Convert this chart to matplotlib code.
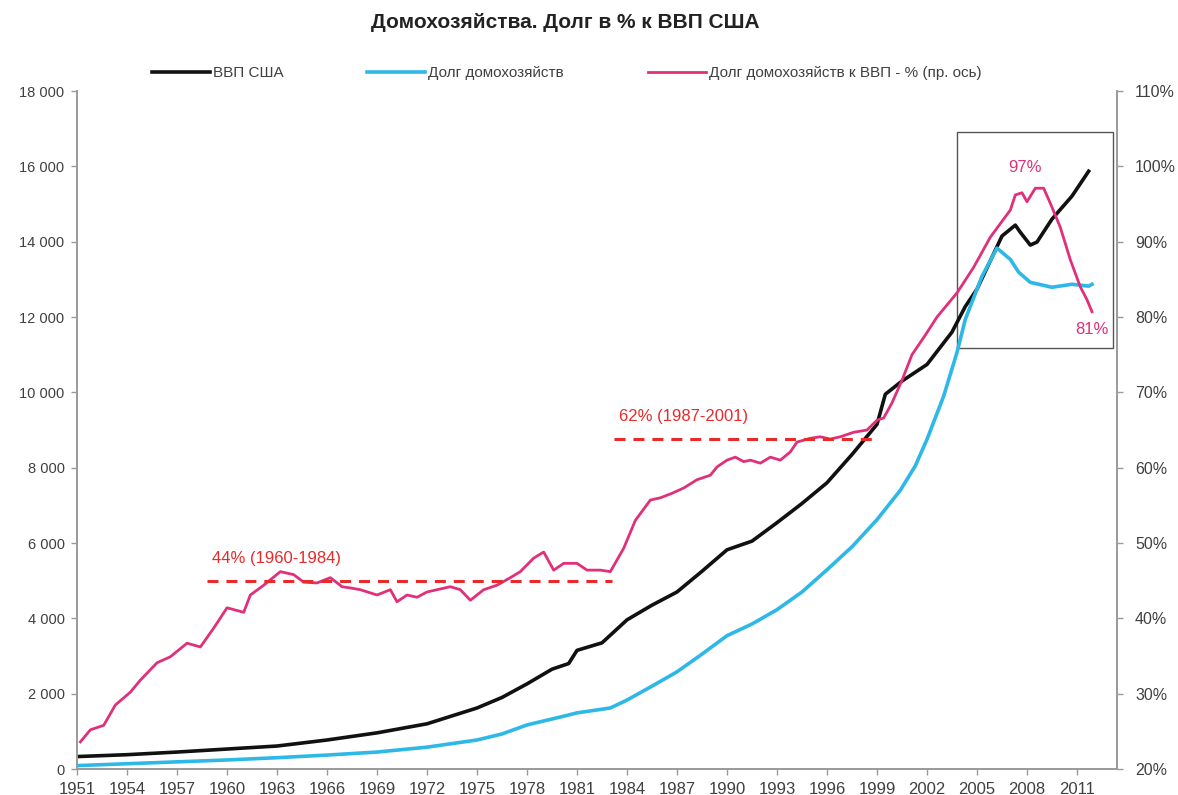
import numpy as np
import matplotlib.pyplot as plt
from matplotlib.patches import Rectangle
from matplotlib.ticker import FuncFormatter

plt.rcParams['font.family'] = ['Liberation Sans', 'DejaVu Sans']

# -------------------------------
# Data
# -------------------------------
gdp_years = [1951, 1954, 1957, 1960, 1963, 1966, 1969, 1972, 1975, 1976.5, 1978,
             1979.5, 1980.5, 1981, 1982.5, 1984, 1985.5, 1987, 1988.5, 1990, 1991.5,
             1993, 1994.5, 1996, 1997.5, 1999, 1999.5, 2000.5, 2002, 2003.5, 2004.3,
             2005, 2006.5, 2007.3, 2007.6, 2008.2, 2008.6, 2009.5, 2010.7, 2011.7]
gdp = [330, 380, 450, 530, 610, 770, 960, 1200, 1620, 1900, 2260,
       2650, 2800, 3150, 3350, 3960, 4350, 4700, 5250, 5820, 6050,
       6540, 7050, 7600, 8350, 9150, 9950, 10300, 10740, 11600, 12280,
       12740, 14150, 14440, 14250, 13910, 13990, 14600, 15210, 15870]

debt_years = [1951, 1954, 1957, 1960, 1963, 1966, 1969, 1972, 1975, 1976.5, 1978, 1980,
              1981, 1983, 1984, 1985.5, 1987, 1988.5, 1990, 1991.5, 1993, 1994.5, 1996,
              1997.5, 1999, 2000.4, 2001.3, 2002, 2003, 2003.8, 2004.3, 2005.3, 2006.2,
              2007.0, 2007.5, 2008.2, 2009.5, 2010.7, 2011.7, 2011.9]
debt = [90, 140, 190, 240, 300, 370, 450, 580, 770, 930, 1170, 1380,
        1490, 1620, 1830, 2200, 2580, 3050, 3540, 3850, 4230, 4700, 5290,
        5900, 6620, 7400, 8050, 8750, 9900, 11060, 11940, 13080, 13830,
        13530, 13190, 12920, 12790, 12870, 12820, 12870]

ratio_years = [1951.2, 1951.8, 1952.6, 1953.3, 1954.2, 1954.8, 1955.8, 1956.6, 1957.6,
               1958.4, 1959.2, 1960.0, 1960.0, 1961.0, 1961.4, 1962.2, 1963.2, 1964.0,
               1964.6, 1965.4, 1966.2, 1966.9, 1967.5, 1968.0, 1969.0, 1969.8, 1970.2,
               1970.8, 1971.4, 1972.0, 1972.6, 1973.4, 1974.0, 1974.6, 1975.4, 1976.2,
               1977.0, 1977.6, 1978.4, 1979.0, 1979.6, 1980.2, 1981.0, 1981.6, 1982.4,
               1983.0, 1983.8, 1984.5, 1985.4, 1986.0, 1986.7, 1987.4, 1988.2, 1989.0,
               1989.4, 1990.0, 1990.5, 1991.0, 1991.4, 1992.0, 1992.6, 1993.2, 1993.8,
               1994.2, 1995.0, 1995.6, 1996.2, 1996.8, 1997.6, 1998.4, 1999.0, 1999.4,
               1999.9, 2000.5, 2001.1, 2001.9, 2002.6, 2003.8, 2004.8, 2005.8, 2007.0,
               2007.3, 2007.7, 2008.0, 2008.5, 2009.0, 2009.4, 2010.0, 2010.6, 2011.2,
               2011.6, 2011.9]
ratio = [23.6, 25.2, 25.8, 28.5, 30.2, 31.8, 34.1, 34.9, 36.7,
         36.2, 38.7, 41.4, 41.4, 40.8, 43.1, 44.4, 46.2, 45.8,
         44.8, 44.7, 45.4, 44.2, 44.0, 43.8, 43.1, 43.8, 42.2,
         43.1, 42.8, 43.5, 43.8, 44.2, 43.8, 42.4, 43.8, 44.4,
         45.4, 46.2, 48.0, 48.8, 46.4, 47.3, 47.3, 46.4, 46.4,
         46.2, 49.3, 53.0, 55.7, 56.0, 56.6, 57.3, 58.4, 59.0,
         60.1, 61.0, 61.4, 60.8, 61.0, 60.6, 61.4, 61.0, 62.1,
         63.4, 63.9, 64.1, 63.8, 64.1, 64.7, 65.0, 66.3, 66.6,
         68.6, 71.6, 75.0, 77.6, 80.0, 83.2, 86.6, 90.6, 94.2,
         96.2, 96.5, 95.3, 97.1, 97.1, 95.1, 91.9, 87.6, 84.0,
         82.3, 80.7]

year_ticks = list(range(1951, 2012, 3))

# average levels (dashed lines)
avg1_span, avg1_level, avg1_text = (1958.8, 1983.1), 45.0, '44% (1960-1984)'
avg2_span, avg2_level, avg2_text = (1983.2, 1999.05), 63.8, '62% (1987-2001)'

# -------------------------------
# Plot
# -------------------------------
fig = plt.figure(figsize=(11.78, 7.95), dpi=100)
ax1 = fig.add_axes([0.0654, 0.0327, 0.8828, 0.8528])
ax2 = ax1.twinx()

c_gdp = '#111111'
c_debt = '#2db8e8'
c_ratio = '#e0307a'
c_dash = '#e82a2a'
c_axis = '#9a9a9a'
c_text = '#404040'

l1, = ax1.plot(gdp_years, gdp, color=c_gdp, lw=2.6, label='ВВП США')
l2, = ax1.plot(debt_years, debt, color=c_debt, lw=2.6, label='Долг домохозяйств')
l3, = ax2.plot(ratio_years, ratio, color=c_ratio, lw=2.0,
               label='Долг домохозяйств к ВВП - % (пр. ось)')

# average dashed lines and labels
for span, level, text in [(avg1_span, avg1_level, avg1_text), (avg2_span, avg2_level, avg2_text)]:
    ax2.plot(span, [level, level], color=c_dash, lw=2.2, dashes=(3.6, 2.6))
    ax2.text(span[0] + 0.3, level + 2.0, text, color=c_dash, fontsize=12,
             ha='left', va='bottom')

# box around the peak
ax1.add_patch(Rectangle((2003.8, 11170), 2013.15 - 2003.8, 16910 - 11170,
                        fill=False, edgecolor='#555555', lw=1.0))
ax2.text(2007.9, 99.8, '97%', color=c_ratio, fontsize=12, ha='center', va='center')
ax2.text(2011.9, 78.3, '81%', color=c_ratio, fontsize=12, ha='center', va='center')

# axes
ax1.set_xlim(1951, 2013.4)
ax1.set_ylim(0, 18000)
ax2.set_ylim(20, 110)
ax1.set_xticks(year_ticks)
ax1.set_yticks(np.arange(0, 18001, 2000))
ax2.set_yticks(np.arange(20, 111, 10))
ax1.yaxis.set_major_formatter(FuncFormatter(lambda v, p: f'{int(v):,}'.replace(',', ' ')))
ax2.yaxis.set_major_formatter(FuncFormatter(lambda v, p: f'{int(v)}%'))

for ax in (ax1, ax2):
    ax.spines['top'].set_visible(False)
    for s in ('left', 'right', 'bottom'):
        ax.spines[s].set_color(c_axis)
        ax.spines[s].set_linewidth(1.2)
    ax.tick_params(colors=c_axis, labelcolor=c_text, length=4, width=1)
ax1.tick_params(axis='x', labelsize=12, pad=5)
ax1.tick_params(axis='y', labelsize=10.5, pad=5)
ax2.tick_params(axis='y', labelsize=11.5, pad=9)

# legend and title
fig.legend(handles=[l1, l2, l3], loc='center left', bbox_to_anchor=(0.117, 0.908), ncol=3,
           frameon=False, fontsize=11, handlelength=3.8, handletextpad=0.2,
           columnspacing=5.5, labelcolor=c_text)
fig.text(0.48, 0.972, 'Домохозяйства. Долг в % к ВВП США', fontsize=15,
         fontweight='bold', ha='center', va='center', color='#222222')

plt.savefig('out.png', dpi=100)
